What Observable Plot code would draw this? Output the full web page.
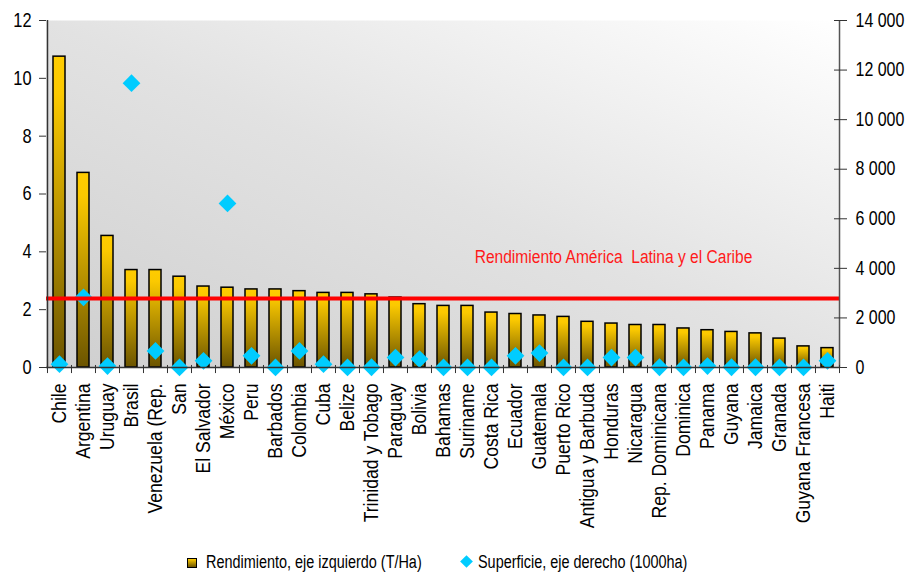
<!DOCTYPE html>
<html><head><meta charset="utf-8">
<script src="https://cdn.jsdelivr.net/npm/d3@7"></script>
<script src="https://cdn.jsdelivr.net/npm/@observablehq/plot@0.6"></script>
<style>
body{margin:0;background:#fff;}
#wrap{position:relative;width:911px;height:577px;overflow:hidden;}
#legend{position:absolute;left:0;top:540px;width:911px;height:37px;font-family:"Liberation Sans",Arial,sans-serif;font-size:17.6px;color:#000;}
.lg{position:absolute;top:12px;white-space:nowrap;line-height:20px;transform:scaleX(0.82);transform-origin:0 50%;}
.sq{position:absolute;left:187px;top:18px;width:8px;height:8px;border:1.5px solid #000;background:linear-gradient(#ffcc00,#6e5600);}
.dm{position:absolute;left:462px;top:17px;width:9px;height:9px;background:#00ccff;transform:rotate(45deg);}
</style></head><body>
<div id="wrap"><div id="chart"></div><div id="legend"></div></div>
<script>
const countries = ["Chile","Argentina","Uruguay","Brasil","Venezuela (Rep.","San","El Salvador","México","Peru","Barbados","Colombia","Cuba","Belize","Trinidad y Tobago","Paraguay","Bolivia","Bahamas","Suriname","Costa Rica","Ecuador","Guatemala","Puerto Rico","Antigua y Barbuda","Honduras","Nicaragua","Rep. Dominicana","Dominica","Panama","Guyana","Jamaica","Granada","Guyana Francesa","Haiti"];
const rendimiento = [10.75,6.73,4.55,3.37,3.37,3.14,2.80,2.76,2.70,2.70,2.64,2.58,2.58,2.53,2.42,2.19,2.13,2.13,1.90,1.85,1.80,1.75,1.58,1.52,1.47,1.47,1.35,1.29,1.23,1.18,1.00,0.73,0.67];
const superficie = [135,2830,60,11470,670,5,270,6620,470,5,670,135,5,10,400,340,5,5,5,470,580,5,5,400,400,10,5,60,10,10,5,5,270];
const leftTicks = [0,2,4,6,8,10,12];
const rightTicks = [0,2000,4000,6000,8000,10000,12000,14000];
const rightTickLabels = ["0","2 000","4 000","6 000","8 000","10 000","12 000","14 000"];
const leftMax = 12, rightMax = 14000;
const avgRendimiento = 2.39;
const avgLabel = "Rendimiento América  Latina y el Caribe";
const avgLabelCountry = "Honduras";
const avgLabelY = 3.84;
const legendLabels = ["Rendimiento, eje izquierdo (T/Ha)","Superficie, eje derecho (1000ha)"];

const font = '"Liberation Sans",Arial,sans-serif';
const W = 911, H = 540, ML = 46, MR = 72, MT = 20, MB = 173;
const step = (W - ML - MR) / countries.length;
const toLeft = v => v * leftMax / rightMax;
const data = countries.map((c, i) => ({pais: c, rend: rendimiento[i], sup: toLeft(superficie[i])}));
const rightScaled = rightTicks.map(toLeft);
const rightFmt = new Map(rightScaled.map((v, i) => [v, rightTickLabels[i]]));
const axisColor = "#333";

const chart = Plot.plot({
  width: W, height: H, marginLeft: ML, marginRight: MR, marginTop: MT, marginBottom: MB,
  style: {fontFamily: font, fontSize: "20px", color: "#000", background: "transparent", overflow: "visible"},
  x: {domain: countries, paddingInner: 0.5, paddingOuter: 0.25, label: null},
  y: {domain: [0, leftMax], label: null},
  marks: [
    Plot.frame({fill: "url(#bgGrad)", stroke: null}),
    Plot.barY(data, {x: "pais", y: "rend", fill: "url(#barGrad)", stroke: "#000", strokeWidth: 1.5}),
    Plot.dot(data, {x: "pais", y: "sup", symbol: "diamond2", r: 8, fill: "#00ccff", stroke: null}),
    Plot.ruleY([avgRendimiento], {stroke: "#ff0000", strokeWidth: 4}),
    Plot.text([{pais: avgLabelCountry, y: avgLabelY, t: avgLabel}], {x: "pais", y: "y", text: "t", fill: "#ff1a1a", fontSize: 19, dx: 2}),
    Plot.ruleY([0], {stroke: axisColor, strokeWidth: 1.5}),
    Plot.ruleX([countries[0]], {y1: 0, y2: leftMax, dx: -step / 2, stroke: axisColor, strokeWidth: 1.5}),
    Plot.ruleX([countries[countries.length - 1]], {y1: 0, y2: leftMax, dx: step / 2, stroke: "#555", strokeWidth: 1.5}),
    Plot.ruleX(countries, {y1: 0.07, y2: -0.21, dx: -step / 2, stroke: axisColor, strokeWidth: 1}),
    Plot.ruleX([countries[countries.length - 1]], {y1: 0.07, y2: -0.21, dx: step / 2, stroke: axisColor, strokeWidth: 1}),
    Plot.axisY({anchor: "left", ticks: leftTicks, tickSize: 7, tickPadding: 8, label: null, fontSize: 20, stroke: axisColor}),
    Plot.axisY({anchor: "right", ticks: rightScaled, tickFormat: d => rightFmt.get(d), tickSize: 7, tickPadding: 9, label: null, fontSize: 19.5, stroke: axisColor}),
    Plot.axisY({anchor: "right", ticks: rightScaled, tickFormat: () => "", tickSize: -6, label: null, stroke: axisColor}),
    Plot.axisX({anchor: "bottom", tickSize: 0, tickRotate: -90, tickPadding: 16, label: null, fontSize: 20})
  ]
});

d3.select(chart).insert("defs", ":first-child").html(
  '<linearGradient id="bgGrad" x1="0" y1="1" x2="1" y2="0">' +
  '<stop offset="0" stop-color="#cfcfcf"/><stop offset="0.5" stop-color="#e2e2e2"/><stop offset="1" stop-color="#ffffff"/></linearGradient>' +
  '<linearGradient id="barGrad" x1="0" y1="0" x2="0" y2="1">' +
  '<stop offset="0" stop-color="#ffcc00"/><stop offset="0.12" stop-color="#fbc900"/><stop offset="1" stop-color="#6b5400"/></linearGradient>'
);
d3.select(chart).selectAll("text").filter(function(){ return this.textContent === avgLabel; }).style("white-space", "pre");
document.getElementById("chart").appendChild(chart);

// emulate a narrow face: scale each text along its own direction about its anchor
const xLabelGroup = chart.querySelector('g[aria-label="x-axis tick label"]');
d3.select(chart).selectAll("text").each(function() {
  if (!this.textContent) return;
  const k = xLabelGroup && xLabelGroup.contains(this) ? 0.88 : 0.82;
  let tr = this.getAttribute("transform") || "";
  const xa = this.getAttribute("x");
  if (xa !== null && /^-?[\d.]+$/.test(xa)) { tr += ` translate(${xa},0)`; this.removeAttribute("x"); }
  this.setAttribute("transform", (tr + ` scale(${k},1)`).trim());
});

const lg = d3.select("#legend");
lg.append("div").attr("class", "sq");
lg.append("div").attr("class", "lg").style("left", "206px").text(legendLabels[0]);
lg.append("div").attr("class", "dm");
lg.append("div").attr("class", "lg").style("left", "478px").text(legendLabels[1]);
</script>
</body></html>
